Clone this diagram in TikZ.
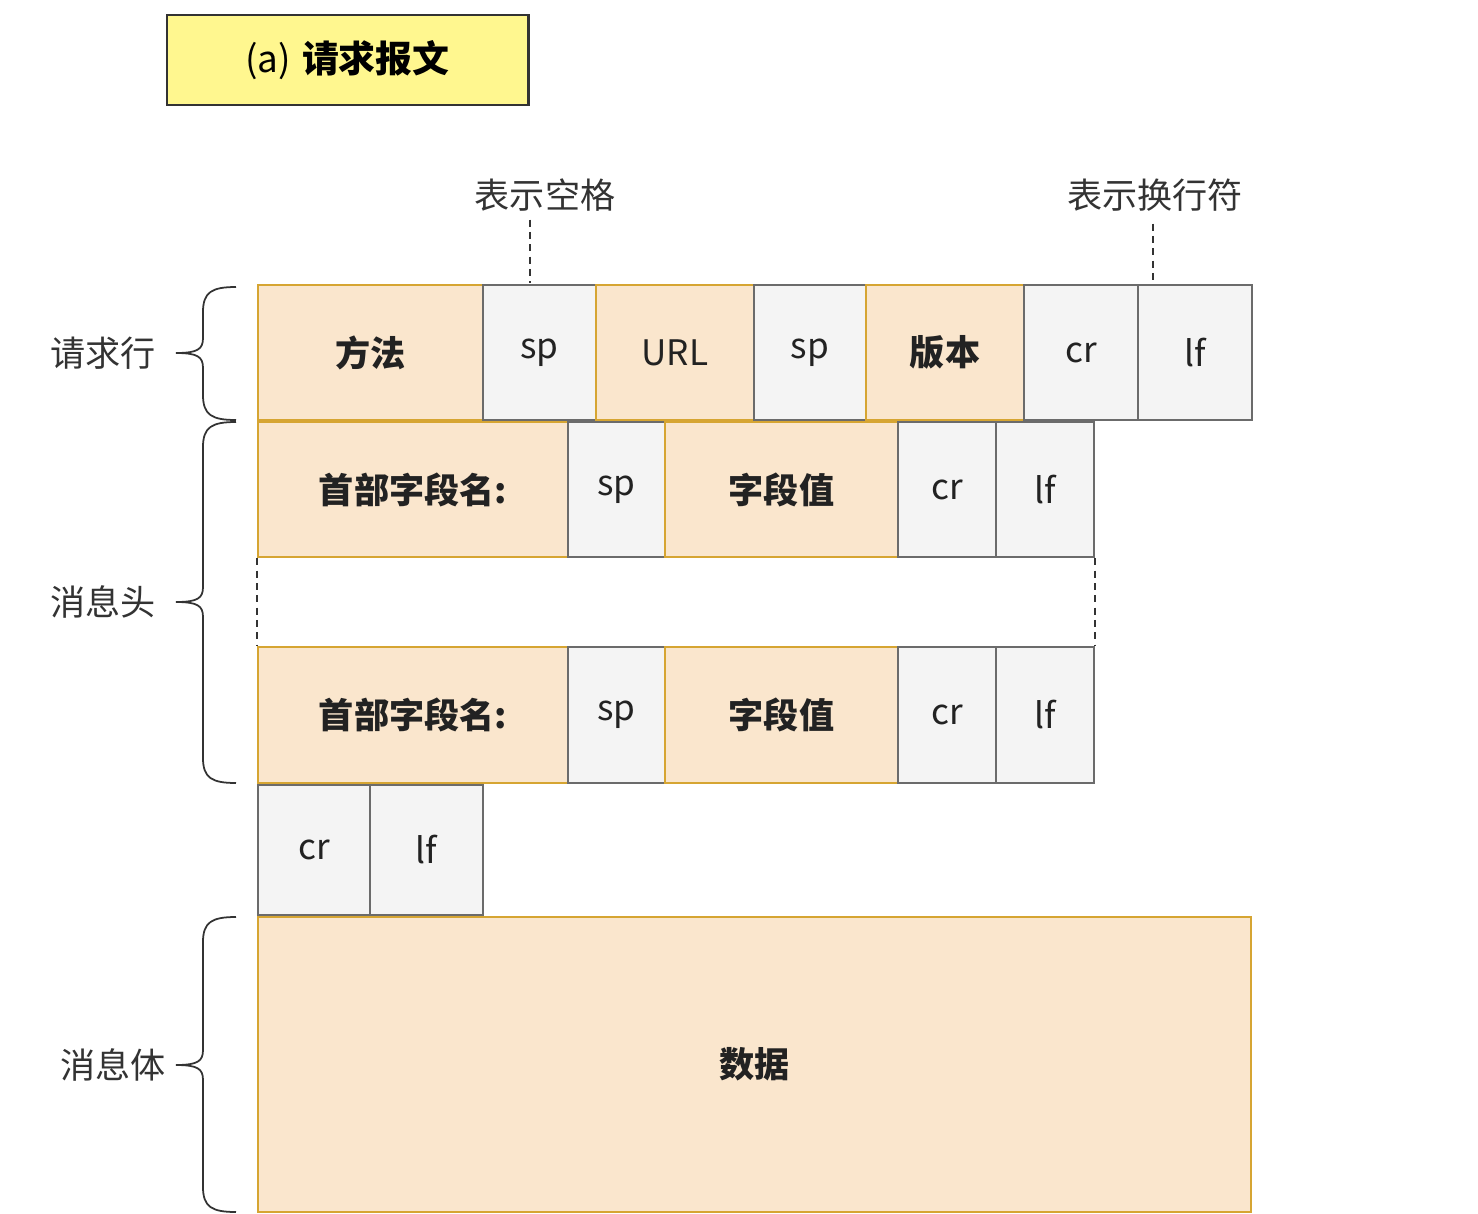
\documentclass[tikz,border=0pt]{standalone}
\usepackage{fontspec}
\setmainfont{Noto Sans CJK SC}
\usetikzlibrary{calc}
\definecolor{ofill}{HTML}{FAE6CD}
\definecolor{oline}{HTML}{D6A532}
\definecolor{gfill}{HTML}{F4F4F4}
\definecolor{gline}{HTML}{6B6B6B}
\definecolor{yfill}{HTML}{FFF78F}
\definecolor{txt}{HTML}{222222}
\definecolor{lbl}{HTML}{333333}
\newcommand\cell[7]{%
  \pgfmathsetmacro\cw{(#4-#2)*0.02}\pgfmathsetmacro\chh{(#5-#3)*0.02}%
  \node[#6, minimum width=\cw cm, minimum height=\chh cm] (#1) at ({(#2+#4)/2},{(#3+#5)/2}) {#7};}
\newcommand\mybrace[3]{% top, mid, bottom
  \draw[bracestyle] (236,#1) .. controls (212,#1) and (203,#1+5) .. (203,#1+25) -- (203,#2-15)
    .. controls (203,#2-4) and (198,#2) .. (176,#2)
    .. controls (198,#2) and (203,#2+4) .. (203,#2+15) -- (203,#3-25)
    .. controls (203,#3-5) and (212,#3) .. (236,#3);}
\begin{document}
\begin{tikzpicture}[x=0.02cm,y=-0.02cm,
  obox/.style={draw=oline, fill=ofill, line width=1.6pt, inner sep=0pt, font=\fontsize{20}{24}\selectfont\bfseries, text=txt},
  gbox/.style={draw=gline, fill=gfill, line width=1.6pt, inner sep=0pt, font=\fontsize{20}{24}\selectfont, text=txt},
  tbox/.style={draw=lbl, fill=yfill, line width=1.7pt, inner sep=0pt, font=\fontsize{21}{25}\selectfont\bfseries, text=black},
  side/.style={font=\fontsize{20}{24}\selectfont, text=lbl, inner sep=0pt},
  bracestyle/.style={draw=lbl, line width=1pt},
  dashline/.style={draw=lbl, line width=1.2pt, dash pattern=on 4pt off 3pt}]
\useasboundingbox (0,0) rectangle (1478,1214);
% title
\cell{title}{167}{15}{528}{105}{tbox}{\raisebox{0pt}{\mdseries(a)}\hspace{0.3em}请求报文}
% annotations
\node[side, anchor=center] (ann1) at (545,195) {表示空格};
\node[side, anchor=center] (ann2) at (1155,195) {表示换行符};
% row 1
\cell{m}{258}{285}{483}{420}{obox}{方法}
\cell{sp1}{483}{285}{596}{420}{gbox}{sp}
\cell{url}{596}{285}{754}{420}{obox,font=\fontsize{20}{24}\selectfont}{URL}
\cell{sp2}{754}{285}{866}{420}{gbox}{sp}
\cell{ver}{866}{285}{1024}{420}{obox}{版本}
\cell{cr1}{1024}{285}{1138}{420}{gbox}{cr}
\cell{lf1}{1138}{285}{1252}{420}{gbox}{lf}
% row 2
\cell{hn1}{258}{422}{568}{557}{obox}{首部字段名:}
\cell{hs1}{568}{422}{665}{557}{gbox}{sp}
\cell{hv1}{665}{422}{898}{557}{obox}{字段值}
\cell{hc1}{898}{422}{996}{557}{gbox}{cr}
\cell{hl1}{996}{422}{1094}{557}{gbox}{lf}
% row 3
\cell{hn2}{258}{647}{568}{783}{obox}{首部字段名:}
\cell{hs2}{568}{647}{665}{783}{gbox}{sp}
\cell{hv2}{665}{647}{898}{783}{obox}{字段值}
\cell{hc2}{898}{647}{996}{783}{gbox}{cr}
\cell{hl2}{996}{647}{1094}{783}{gbox}{lf}
% row 4
\cell{ec}{258}{785}{370}{915}{gbox}{cr}
\cell{el}{370}{785}{483}{915}{gbox}{lf}
% body
\cell{data}{258}{917}{1251}{1212}{obox}{数据}
% dashed
\coordinate (d1) at (530,283);
\coordinate (d2) at (1153,283);
\draw[dashline] (ann1.south -| d1) ++(0,8) -- (d1);
\draw[dashline] (ann2.south -| d2) ++(0,12) -- (d2);
\draw[dashline] (hn1.south west) -- (hn2.north west);
\draw[dashline] (hl1.south east) -- (hl2.north east);
% braces
\mybrace{287}{353}{420}
\mybrace{422}{602}{783}
\mybrace{917}{1065}{1212}
\node[side, anchor=east] (l1) at (156,353) {请求行};
\node[side, anchor=east] (l2) at (156,602) {消息头};
\node[side, anchor=east] (l3) at (166,1065) {消息体};
\end{tikzpicture}
\end{document}
